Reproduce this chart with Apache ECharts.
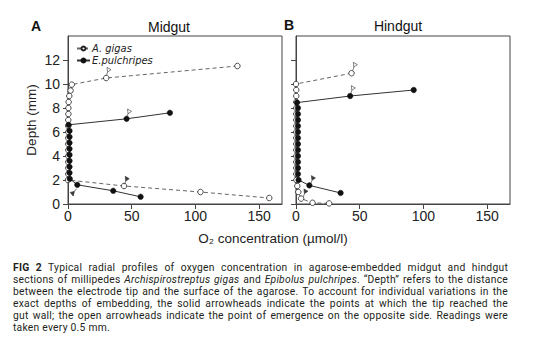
<!DOCTYPE html>
<html lang="en">
<head>
<meta charset="UTF-8">
<title>Oxygen profiles</title>
<script src="https://cdn.jsdelivr.net/npm/echarts@6/dist/echarts.min.js"></script>
<style>
  body { margin: 0; background: #fff; }
  #chart { position: absolute; left: 0; top: 0; width: 554px; height: 351px; }
  #caption { position: absolute; left: 13px; top: 262px; width: 495px;
             font-family: Roboto, sans-serif; font-size: 10.3px; line-height: 12.1px;
             letter-spacing: 0.25px; color: #231f20; }
  #caption div { text-align: justify; text-align-last: justify; height: 12.1px; }
  #caption div.last { text-align-last: left; }
</style>
</head>
<body>
<div id="chart"></div>
<div id="caption">
  <div><b>FIG 2</b> Typical radial profiles of oxygen concentration in agarose-embedded midgut and hindgut</div>
  <div>sections of millipedes <i>Archispirostreptus gigas</i> and <i>Epibolus pulchripes</i>. “Depth” refers to the distance</div>
  <div>between the electrode tip and the surface of the agarose. To account for individual variations in the</div>
  <div>exact depths of embedding, the solid arrowheads indicate the points at which the tip reached the</div>
  <div>gut wall; the open arrowheads indicate the point of emergence on the opposite side. Readings were</div>
  <div class="last">taken every 0.5 mm.</div>
</div>
<script type="text/javascript">
    // tick labels
    var depthTicks = [0, 2, 4, 6, 8, 10, 12];
    var concTicks = [0, 50, 100, 150];

    // Midgut, A. gigas
    var midGigasDepth = [11.5, 10.5, 9.95, 9.45, 9.0, 8.5, 8.0, 7.5, 7.0, 6.5, 6.0, 5.5, 5.0, 4.5, 4.0, 3.5, 3.0, 2.5, 2.0, 1.5, 1.0, 0.5];
    var midGigasConc  = [133, 30, 3, 2, 1, 0.5, 0.3, 0.3, 0.2, 0.2, 0.2, 0.2, 0.2, 0.2, 0.2, 0.2, 0.2, 0.2, 0, 44, 104, 158];
    // Midgut, E. pulchripes
    var midPulDepth = [7.6, 7.1, 6.6, 6.1, 5.6, 5.1, 4.6, 4.1, 3.6, 3.1, 2.6, 2.1, 1.6, 1.1, 0.6];
    var midPulConc  = [80, 46, 0.5, 1.2, 1.2, 1.2, 1.2, 1.2, 1.2, 1.2, 1.2, 1.4, 7.3, 35.5, 57];
    // Hindgut, A. gigas
    var hindGigasDepth = [10.9, 10.0, 9.5, 9.0, 8.5, 8.0, 7.5, 7.0, 6.5, 6.0, 5.5, 5.0, 4.5, 4.0, 3.5, 3.0, 2.5, 2.0, 1.5, 1.0, 0.45, 0.1, 0.05];
    var hindGigasConc  = [43.6, 0, 0.2, 0.2, 0.2, 0.2, 0.2, 0.2, 0.2, 0.2, 0.2, 0.2, 0.2, 0.2, 0.2, 0.2, 0.2, 0.3, 1, 1.8, 4, 13, 26];
    // Hindgut, E. pulchripes
    var hindPulDepth = [9.5, 9.0, 8.45, 8.0, 7.5, 7.0, 6.5, 6.0, 5.5, 5.0, 4.5, 4.0, 3.5, 3.0, 2.5, 2.0, 1.55, 0.92];
    var hindPulConc  = [92.4, 42.5, 0.8, 1.5, 1.5, 1.5, 1.5, 1.5, 1.5, 1.5, 1.5, 1.5, 1.5, 1.5, 1.5, 2, 10.5, 35];

    // arrowheads [conc, depth]
    var midOpenArrows   = [[32, 11.05], [48.1, 7.58]];
    var midSolidArrows  = [[46.3, 1.97]];
    var midSolidArrowsDown = [[3.9, 1.03]];
    var hindOpenArrows  = [[46.4, 11.47], [44.8, 9.53]];
    var hindSolidArrows = [[13.5, 2.03], [7.6, 0.92]];

    var font = 'Liberation Sans, Arial, sans-serif';
    var axisColor = '#444';
    var arrowPath = 'path://M2,0 L10,3.5 L3,7 Z M3,7 L1,12';

    function pairs(conc, depth) {
        return conc.map(function (c, i) { return [c, depth[i]]; });
    }

    function xAxisFor(idx) {
        return {
            gridIndex: idx, type: 'value', min: 0, max: 168,
            axisLine: {show: true, lineStyle: {color: axisColor}},
            axisTick: {show: true, customValues: concTicks, length: 5, lineStyle: {color: axisColor}},
            axisLabel: {customValues: concTicks, fontSize: 14, color: '#222', margin: 5, fontFamily: font},
            splitLine: {show: false}
        };
    }

    function yAxisFor(idx, labels) {
        return {
            gridIndex: idx, type: 'value', min: 0, max: 14,
            name: labels ? 'Depth (mm)' : '', nameLocation: 'middle', nameGap: 30,
            nameTextStyle: {fontSize: 13.5, color: '#222', fontFamily: font},
            axisLine: {show: true, lineStyle: {color: axisColor}},
            axisTick: {show: true, customValues: depthTicks, length: 5, lineStyle: {color: axisColor}},
            axisLabel: {show: labels, customValues: depthTicks, fontSize: 14, color: '#222', margin: 8, fontFamily: font},
            splitLine: {show: false}
        };
    }

    function gigasSeries(idx, data) {
        return {
            name: 'A. gigas', type: 'line', xAxisIndex: idx, yAxisIndex: idx, data: data,
            clip: false, symbol: 'circle', symbolSize: 5.5,
            lineStyle: {color: '#666', width: 1, type: [4, 3]},
            itemStyle: {color: '#fff', borderColor: '#222', borderWidth: 0.8},
            z: 2
        };
    }

    function pulSeries(idx, data) {
        return {
            name: 'E.pulchripes', type: 'line', xAxisIndex: idx, yAxisIndex: idx, data: data,
            clip: false, symbol: 'circle', symbolSize: 5.5,
            lineStyle: {color: '#333', width: 1},
            itemStyle: {color: '#111', borderColor: '#111', borderWidth: 0.5},
            z: 3
        };
    }

    function arrowSeries(idx, data, open, rotate) {
        return {
            name: open ? 'open arrowhead' : 'solid arrowhead', type: 'scatter',
            xAxisIndex: idx, yAxisIndex: idx, data: data, clip: false,
            symbol: arrowPath, symbolSize: [6, 8], symbolKeepAspect: true, symbolRotate: rotate || 0,
            itemStyle: {color: open ? '#fff' : '#111', borderColor: '#222', borderWidth: 0.7},
            z: 4
        };
    }

    var myChart = echarts.init(document.getElementById('chart'), null, {renderer: 'svg'});
    var option = {
        backgroundColor: '#fff',
        animation: false,
        grid: [
            {left: 68, top: 36, width: 214, height: 168, show: true, borderColor: axisColor, borderWidth: 1},
            {left: 296, top: 36, width: 214, height: 168, show: true, borderColor: axisColor, borderWidth: 1}
        ],
        xAxis: [xAxisFor(0), xAxisFor(1)],
        yAxis: [yAxisFor(0, true), yAxisFor(1, false)],
        legend: {
            data: ['A. gigas', 'E.pulchripes'], orient: 'vertical',
            left: 71, top: 38, itemWidth: 13, itemHeight: 5, itemGap: 1,
            textStyle: {fontSize: 11, fontStyle: 'italic', color: '#222', lineHeight: 9,
                        fontFamily: 'Liberation Sans Narrow, DejaVu Sans Condensed, sans-serif', padding: [0, 0, 0, -3]}
        },
        graphic: [
            {type: 'text', left: 31, top: 19, style: {text: 'A', font: 'bold 14px Liberation Sans, Arial', fill: '#111'}},
            {type: 'text', left: 284, top: 18, style: {text: 'B', font: 'bold 14px Liberation Sans, Arial', fill: '#111'}},
            {type: 'text', x: 169, y: 27, style: {text: 'Midgut', font: '14px Liberation Sans, Arial', fill: '#111', textAlign: 'center', textVerticalAlign: 'middle'}},
            {type: 'text', x: 398, y: 26, style: {text: 'Hindgut', font: '14px Liberation Sans, Arial', fill: '#111', textAlign: 'center', textVerticalAlign: 'middle'}},
            {type: 'text', x: 273, y: 238, style: {text: 'O₂ concentration (µmol/l)', font: '13.5px Liberation Sans, Arial', fill: '#222', textAlign: 'center', textVerticalAlign: 'middle'}}
        ],
        series: [
            gigasSeries(0, pairs(midGigasConc, midGigasDepth)),
            pulSeries(0, pairs(midPulConc, midPulDepth)),
            gigasSeries(1, pairs(hindGigasConc, hindGigasDepth)),
            pulSeries(1, pairs(hindPulConc, hindPulDepth)),
            arrowSeries(0, midOpenArrows, true),
            arrowSeries(0, midSolidArrows, false),
            arrowSeries(0, midSolidArrowsDown, false, 160),
            arrowSeries(1, hindOpenArrows, true),
            arrowSeries(1, hindSolidArrows, false)
        ]
    };
    myChart.setOption(option);
</script>
</body>
</html>
